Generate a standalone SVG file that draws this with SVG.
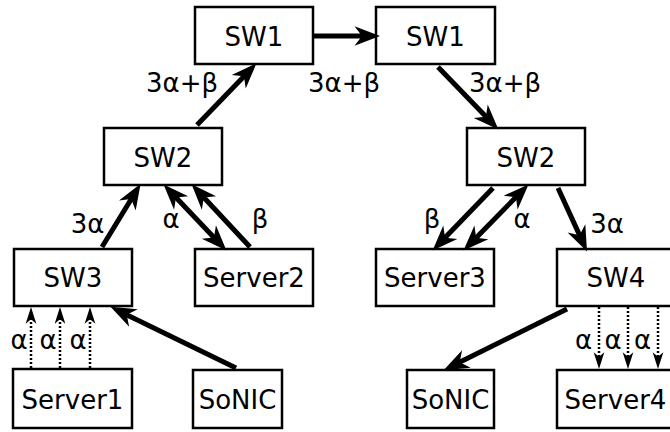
<svg xmlns="http://www.w3.org/2000/svg" width="670" height="432" viewBox="0 0 670 432">
  <style>
    .box { fill: #ffffff; stroke: #000000; stroke-width: 2.5; }
    .name { font-family: "DejaVu Sans", "Liberation Sans", sans-serif; font-size: 26px; text-anchor: middle; fill: #000000; }
    .lbl { font-family: "DejaVu Sans", "Liberation Sans", sans-serif; font-size: 26px; text-anchor: middle; fill: #000000; }
    .link { fill: none; stroke: #000000; stroke-width: 5; }
    .dot { fill: none; stroke: #000000; stroke-width: 2.5; stroke-dasharray: 2 2; }
  </style>
  <defs>
    <marker id="head" markerUnits="userSpaceOnUse" markerWidth="30" markerHeight="30" viewBox="-8 -8 20 16" refX="0" refY="0" orient="auto-start-reverse" overflow="visible">
      <path d="M10,0 L-7,-6.5 L-2,0 L-7,6.5 Z" fill="#000000"/>
    </marker>
    <marker id="small" markerUnits="userSpaceOnUse" markerWidth="20" markerHeight="20" viewBox="-8 -6 18 12" refX="0" refY="0" orient="auto" overflow="visible">
      <path d="M8,0 L-7,-4.8 L-3,0 L-7,4.8 Z" fill="#000000"/>
    </marker>
  </defs>

  <!-- switches and hosts -->
  <g id="sw1-left"><rect class="box" x="195" y="7" width="118" height="57"/><text class="name" x="254" y="45.5">SW1</text></g>
  <g id="sw1-right"><rect class="box" x="376" y="7" width="119" height="57"/><text class="name" x="435.5" y="45.5">SW1</text></g>
  <g id="sw2-left"><rect class="box" x="104" y="128" width="118" height="57"/><text class="name" x="163" y="166.5">SW2</text></g>
  <g id="sw2-right"><rect class="box" x="467" y="128" width="118" height="57"/><text class="name" x="526" y="166.5">SW2</text></g>
  <g id="sw3"><rect class="box" x="14" y="249" width="118" height="57"/><text class="name" x="73" y="287">SW3</text></g>
  <g id="server2"><rect class="box" x="195" y="249" width="118" height="57"/><text class="name" x="254" y="287">Server2</text></g>
  <g id="server3"><rect class="box" x="376" y="249" width="118" height="57"/><text class="name" x="435" y="287">Server3</text></g>
  <g id="sw4"><rect class="box" x="557" y="249" width="118" height="57"/><text class="name" x="616" y="287">SW4</text></g>
  <g id="server1"><rect class="box" x="13" y="369" width="119" height="59"/><text class="name" x="72.5" y="408.5">Server1</text></g>
  <g id="sonic-left"><rect class="box" x="193" y="370" width="89" height="58"/><text class="name" x="237.5" y="408.5">SoNIC</text></g>
  <g id="sonic-right"><rect class="box" x="407" y="370" width="87" height="58"/><text class="name" x="450.5" y="408.5">SoNIC</text></g>
  <g id="server4"><rect class="box" x="557" y="370" width="118" height="58"/><text class="name" x="615.5" y="408.5">Server4</text></g>

  <!-- connectors -->
  <g id="links">
    <line class="link" x1="314" y1="36" x2="365" y2="36" marker-end="url(#head)"/>
    <line class="link" x1="197" y1="125" x2="246" y2="74.2" marker-end="url(#head)"/>
    <line class="link" x1="438" y1="67" x2="488" y2="118.8" marker-end="url(#head)"/>
    <line class="link" x1="102" y1="247" x2="132.8" y2="196.5" marker-end="url(#head)"/>
    <line class="link" x1="173.9" y1="195.3" x2="216.1" y2="239.7" marker-start="url(#head)" marker-end="url(#head)"/>
    <line class="link" x1="250" y1="247" x2="201.8" y2="195.3" marker-end="url(#head)"/>
    <line class="link" x1="493" y1="188" x2="443" y2="239.8" marker-end="url(#head)"/>
    <line class="link" x1="518" y1="195.1" x2="474" y2="239.9" marker-start="url(#head)" marker-end="url(#head)"/>
    <line class="link" x1="558" y1="188" x2="580.8" y2="237.9" marker-end="url(#head)"/>
    <line class="link" x1="236" y1="368" x2="124" y2="313.4" marker-end="url(#head)"/>
    <line class="link" x1="567" y1="309" x2="457" y2="363.6" marker-end="url(#head)"/>

    <line class="dot" x1="31" y1="368" x2="31" y2="316" marker-end="url(#small)"/>
    <line class="dot" x1="60" y1="368" x2="60" y2="316" marker-end="url(#small)"/>
    <line class="dot" x1="90" y1="368" x2="90" y2="316" marker-end="url(#small)"/>
    <line class="dot" x1="599" y1="307" x2="599" y2="360" marker-end="url(#small)"/>
    <line class="dot" x1="628" y1="307" x2="628" y2="360" marker-end="url(#small)"/>
    <line class="dot" x1="658" y1="307" x2="658" y2="360" marker-end="url(#small)"/>
  </g>

  <!-- link labels -->
  <g id="labels">
    <text class="lbl" x="182" y="92">3α+β</text>
    <text class="lbl" x="344" y="92">3α+β</text>
    <text class="lbl" x="505" y="92">3α+β</text>
    <text class="lbl" x="87.5" y="233">3α</text>
    <text class="lbl" x="171" y="228">α</text>
    <text class="lbl" x="260" y="228">β</text>
    <text class="lbl" x="432" y="228">β</text>
    <text class="lbl" x="522" y="228">α</text>
    <text class="lbl" x="607" y="233">3α</text>
    <text class="lbl" x="19" y="349">α</text>
    <text class="lbl" x="48" y="349">α</text>
    <text class="lbl" x="78" y="349">α</text>
    <text class="lbl" x="583.5" y="349">α</text>
    <text class="lbl" x="613" y="349">α</text>
    <text class="lbl" x="642.5" y="349">α</text>
  </g>
</svg>
